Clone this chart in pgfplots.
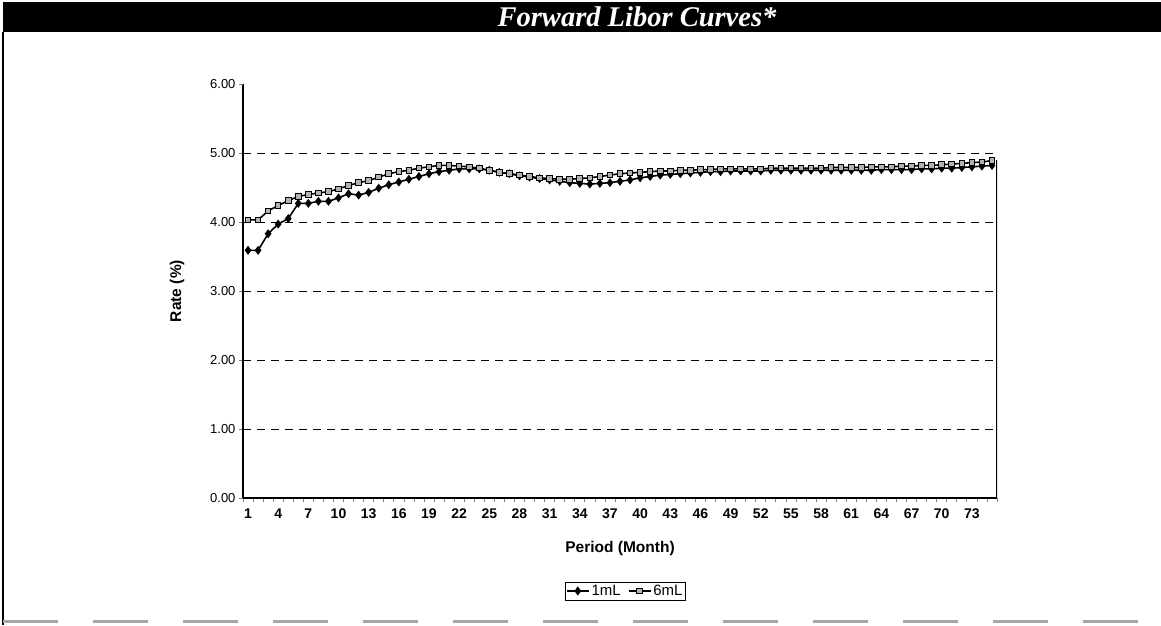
\documentclass[border=0pt]{standalone}
\usepackage{pgfplots}
\usepackage{pgfplotstable}
\pgfplotsset{compat=1.18}
\usepackage{fontspec}
\setmainfont{Liberation Sans}
\newfontfamily\timesf{Liberation Serif}

\pgfplotstableread{
m v
1 3.59
2 3.59
3 3.83
4 3.97
5 4.05
6 4.27
7 4.27
8 4.30
9 4.30
10 4.35
11 4.41
12 4.39
13 4.43
14 4.49
15 4.54
16 4.58
17 4.62
18 4.66
19 4.70
20 4.73
21 4.75
22 4.77
23 4.77
24 4.77
25 4.75
26 4.72
27 4.70
28 4.67
29 4.65
30 4.63
31 4.61
32 4.59
33 4.57
34 4.56
35 4.55
36 4.56
37 4.57
38 4.59
39 4.61
40 4.64
41 4.66
42 4.68
43 4.69
44 4.70
45 4.71
46 4.72
47 4.73
48 4.73
49 4.74
50 4.74
51 4.74
52 4.74
53 4.75
54 4.75
55 4.75
56 4.75
57 4.75
58 4.75
59 4.75
60 4.75
61 4.75
62 4.75
63 4.75
64 4.76
65 4.76
66 4.76
67 4.76
68 4.77
69 4.77
70 4.78
71 4.78
72 4.79
73 4.80
74 4.81
75 4.82
}\onemL

\pgfplotstableread{
m v
1 4.03
2 4.03
3 4.16
4 4.24
5 4.31
6 4.37
7 4.40
8 4.42
9 4.44
10 4.48
11 4.53
12 4.57
13 4.60
14 4.65
15 4.70
16 4.73
17 4.75
18 4.78
19 4.80
20 4.82
21 4.82
22 4.81
23 4.80
24 4.78
25 4.75
26 4.72
27 4.70
28 4.68
29 4.66
30 4.64
31 4.63
32 4.62
33 4.62
34 4.63
35 4.64
36 4.66
37 4.68
38 4.70
39 4.71
40 4.72
41 4.73
42 4.74
43 4.74
44 4.75
45 4.75
46 4.76
47 4.76
48 4.77
49 4.77
50 4.77
51 4.77
52 4.77
53 4.78
54 4.78
55 4.78
56 4.78
57 4.78
58 4.78
59 4.79
60 4.79
61 4.79
62 4.79
63 4.80
64 4.80
65 4.80
66 4.81
67 4.81
68 4.82
69 4.82
70 4.83
71 4.84
72 4.85
73 4.86
74 4.87
75 4.89
}\sixmL

\begin{document}
\begin{tikzpicture}[x=1pt,y=1pt]
\useasboundingbox (0,0) rectangle (1161,-625);
\fill[black] (3,-2) rectangle (1161,-32);
\node[white, font=\timesf\bfseries\itshape\fontsize{28.5}{32}\selectfont] at (637,-17) {Forward Libor Curves*};
\draw[line width=1.5pt] (3,-32) -- (3,-625);
\draw[gray!70, line width=3pt, dash pattern=on 55pt off 35pt] (3,-621) -- (1161,-621);
\begin{axis}[
  at={(243pt,-498pt)}, anchor=south west,
  scale only axis, width=754pt, height=414pt,
  xmin=0.5, xmax=75.5, ymin=0, ymax=6,
  axis x line*=bottom, axis y line*=left,
  axis line style={line width=1.2pt},
  xtick={1,4,...,73},
  xticklabels={1,4,7,10,13,16,19,22,25,28,31,34,37,40,43,46,49,52,55,58,61,64,67,70,73},
  minor xtick={0.5,1.5,...,75.5},
  major x tick style={draw=none},
  minor x tick style={line width=0.7pt},
  tick align=outside,
  major tick length=4pt, minor tick length=4pt,
  ytick={0,1,2,3,4,5},
  yticklabels={0.00,1.00,2.00,3.00,4.00,5.00},
  extra y ticks={6}, extra y tick labels={6.00},
  extra y tick style={grid=none},
  ymajorgrids,
  major grid style={black, line width=0.9pt, dash pattern=on 8pt off 6pt},
  xticklabel style={font=\bfseries\fontsize{14}{16}\selectfont, yshift=-3pt},
  yticklabel style={font=\fontsize{13}{15}\selectfont},
  xlabel={Period (Month)},
  ylabel={Rate (\%)},
  xlabel style={font=\bfseries\fontsize{15.5}{18}\selectfont, at={(axis description cs:0.5,-0.121)}, anchor=center},
  ylabel style={font=\bfseries\fontsize{15.5}{18}\selectfont, at={(axis description cs:-0.0875,0.5)}, anchor=center},
  legend columns=2,
  legend style={at={(0.507,-0.2246)}, anchor=center, draw=black, line width=0.9pt,
    font=\fontsize{15}{17}\selectfont, inner sep=1pt,
    /tikz/every even column/.append style={column sep=5pt}},
  legend image code/.code={\draw[#1] (0pt,0pt) -- (22pt,0pt); \draw[#1, mark repeat=2, mark phase=2] plot coordinates {(0pt,0pt) (11pt,0pt) (22pt,0pt)};},
]
\addplot[black, line width=1.6pt, mark=diamond*, mark size=3.2pt, mark options={solid, fill=black}] table[x=m,y=v] {\onemL};
\addlegendentry{1mL}
\addplot[black, line width=1.6pt, mark=square*, mark size=2.8pt, mark options={solid, fill=gray!60, draw=black, line width=1pt}] table[x=m,y=v] {\sixmL};
\addlegendentry{6mL}
\draw[line width=1.2pt] (axis cs:75.5,0) -- (axis cs:75.5,4.9);
\end{axis}
\end{tikzpicture}
\end{document}
